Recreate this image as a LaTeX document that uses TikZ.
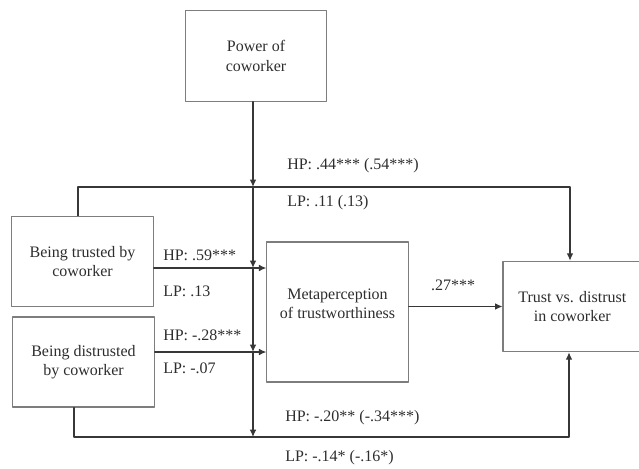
\documentclass[tikz,border=0pt]{standalone}
\usepackage{fontspec}
\setmainfont{Liberation Serif}
\usetikzlibrary{arrows.meta}
\definecolor{boxgray}{RGB}{125,125,125}
\definecolor{linkgray}{RGB}{55,55,55}
\definecolor{textgray}{RGB}{45,45,45}

\begin{document}
\begin{tikzpicture}[x=0.75pt,y=-0.75pt,line cap=round,line join=round,
    font=\fontsize{12}{14.5}\selectfont,text=textgray,
    box/.style={draw=boxgray,line width=0.8pt,align=center,inner sep=0pt,
        minimum width=106pt,minimum height=68pt},
    link/.style={draw=linkgray,line width=0.8pt,-{Latex[length=5.5pt,width=5pt]}},
    coeff/.style={anchor=west,inner sep=0pt}]
        \useasboundingbox (0,0) rectangle (639,468);

        \node[box] (power) at (256,56) {Power of\\coworker};
        \node[box] (trusted) at (82.5,261.5) {Being trusted by\\coworker};
        \node[box,minimum height=67.5pt] (distrusted) at (83.5,362) {Being distrusted\\by coworker};
        \node[box,minimum height=105pt] (meta) at (337.5,312) {Metaperception\\of trustworthiness\\[-2.5pt]};
        \node[box,minimum width=114pt] (trust) at (579,306.5) {\hspace*{-10pt}Trust vs. distrust\\\hspace*{-10pt}in coworker};

        \coordinate (top) at (253,187);
        \coordinate (mid1) at (253,268);
        \coordinate (mid2) at (253,352);
        \coordinate (bottom) at (253,437);

        \draw[link,line width=1.4pt] (power.south -| top) -- (top);
        \draw[link,line width=1.4pt] (top) -- (mid1);
        \draw[link,line width=1.4pt] (mid1) -- (mid2);
        \draw[link] (mid2) -- (bottom);

        \draw[link] (trusted.east |- mid1) -- (meta.west |- mid1);
        \draw[link] (distrusted.east |- mid2) -- (meta.west |- mid2);
        \draw[link] (meta.east |- trust.west) -- (trust.west);
        \draw[link] (78,0 |- trusted.north) -- (78,187) -- (570,187) -- (570,0 |- trust.north);
        \draw[link] (74,0 |- distrusted.south) -- (74,437) -- (569,437) -- (569,0 |- trust.south);

        \node[coeff] (hpdirtrust) at (287,166) {HP: .44*** (.54***)};
        \node[coeff] (lpdirtrust) at (287,203) {LP: .11 (.13)};
        \node[coeff] (hptrusted) at (163,255) {HP: .59***};
        \node[coeff] (lptrusted) at (163,291) {LP: .13};
        \node[coeff] (hpdistrusted) at (163,335) {HP: -.28***};
        \node[coeff] (lpdistrusted) at (163,368) {LP: -.07};
        \node (metapath) at (453,285) {.27***};
        \node[coeff] (hpdirdistrust) at (285,418) {HP: -.20** (-.34***)};
        \node[coeff] (lpdirdistrust) at (285,458) {LP: -.14* (-.16*)};
    \end{tikzpicture}
\end{document}
